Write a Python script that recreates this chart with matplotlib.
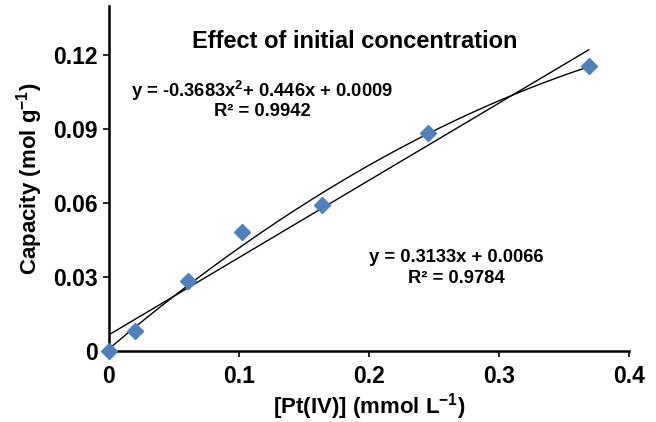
import numpy as np
import matplotlib
matplotlib.use("Agg")
import matplotlib.pyplot as plt

plt.rcParams['font.family'] = ['Liberation Sans', 'DejaVu Sans']
plt.rcParams['font.weight'] = 'bold'
plt.rcParams['mathtext.fontset'] = 'custom'
plt.rcParams['mathtext.rm'] = 'Liberation Sans:bold'
plt.rcParams['mathtext.bf'] = 'Liberation Sans:bold'
plt.rcParams['mathtext.it'] = 'Liberation Sans:bold'

# data
conc = [0.0, 0.020, 0.061, 0.1025, 0.1636, 0.245, 0.369]
capacity = [0.0, 0.0082, 0.0285, 0.0482, 0.0592, 0.0884, 0.1156]

# Excel trendlines
lin_coef = [0.3133, 0.0066]
quad_coef = [-0.3683, 0.446, 0.0009]

x_ticks = [0, 0.1, 0.2, 0.3, 0.4]
x_labels = ['0', '0.1', '0.2', '0.3', '0.4']
y_ticks = [0, 0.03, 0.06, 0.09, 0.12]
y_labels = ['0', '0.03', '0.06', '0.09', '0.12']

fig = plt.figure(figsize=(6.56, 4.22), dpi=100)
ax = fig.add_axes([0.166, 0.168, 0.793, 0.818])

xs = np.linspace(0, max(conc), 200)
ax.plot(xs, np.polyval(lin_coef, xs), color='black', lw=1.0, zorder=2)
ax.plot(xs, np.polyval(quad_coef, xs), color='black', lw=1.0, zorder=2)
ax.plot(conc, capacity, linestyle='none', marker='D', ms=8.5,
        color='#4F81BD', zorder=3, clip_on=False)

ax.set_xlim(0, 0.4)
ax.set_ylim(0, 0.14)
ax.set_xticks(x_ticks)
ax.set_xticklabels(x_labels)
ax.set_yticks(y_ticks)
ax.set_yticklabels(y_labels)
ax.tick_params(direction='out', length=4, width=1.2, labelsize=16.5, pad=4)
ax.tick_params(axis='x', pad=6)
for s in ['top', 'right']:
    ax.spines[s].set_visible(False)
for s in ['left', 'bottom']:
    ax.spines[s].set_linewidth(1.8)

ax.set_xlabel('[Pt(IV)] (mmol L$^{-1}$)', fontsize=16, fontweight='bold', labelpad=2)
ax.set_ylabel('Capacity (mol g$^{-1}$)', fontsize=16, fontweight='bold', labelpad=6)

ax.text(0.189, 0.1255, 'Effect of initial concentration', fontsize=17,
        fontweight='bold', ha='center', va='center')
ax.text(0.118, 0.1054, 'y = -0.3683x$^{2}$+ 0.446x + 0.0009', fontsize=13.2,
        fontweight='bold', ha='center', va='center')
ax.text(0.118, 0.0973, 'R² = 0.9942', fontsize=13.2,
        fontweight='bold', ha='center', va='center')
ax.text(0.267, 0.0380, 'y = 0.3133x + 0.0066', fontsize=13.2,
        fontweight='bold', ha='center', va='center')
ax.text(0.267, 0.0295, 'R² = 0.9784', fontsize=13.2,
        fontweight='bold', ha='center', va='center')

fig.savefig('out.png', dpi=100)
